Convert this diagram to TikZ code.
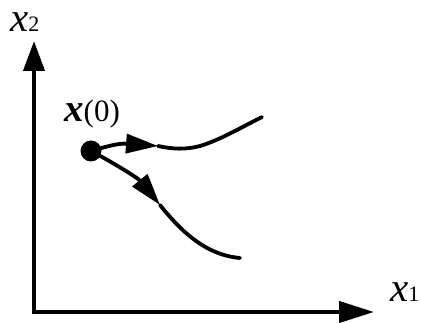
\documentclass[tikz,border=0pt]{standalone}
\usepackage{fontspec}
\setmainfont{Liberation Serif}
\usetikzlibrary{arrows.meta}
\begin{document}
\begin{tikzpicture}[x=1pt,y=-1pt,
  axis/.style={line width=4.2pt, line join=miter,
    {Triangle[length=30pt,width=21pt]}-{Triangle[length=35pt,width=21pt]}},
  traj/.style={line width=3.8pt, line cap=round, line join=round},
  headtip/.style={-{Triangle[length=32pt,width=19pt]}},
  lbl/.style={inner sep=0pt, anchor=base west}]
\useasboundingbox (0,0) rectangle (421,323);
\coordinate (Y) at (34,41);
\coordinate (O) at (34,312);
\coordinate (X) at (374,312);
\draw[axis] (Y) -- (O) -- (X);
\node[lbl] (lx2) at (10,32) {\fontsize{41}{41}\selectfont\itshape x\upshape\fontsize{22}{22}\selectfont 2};
\node[lbl] (lx1) at (390,302) {\fontsize{41}{41}\selectfont\itshape x\upshape\fontsize{22}{22}\selectfont 1};
\node[lbl] (lx0) at (64,122) {\fontsize{39}{39}\selectfont\bfseries\itshape x\fontsize{31}{31}\selectfont\mdseries\upshape (0)};
\fill (91,151) circle (10.5pt);
\coordinate (P0) at (91,151);
% upper trajectory
\coordinate (U1) at (158,146);
\draw[traj,headtip] (P0) .. controls (105,147) and (118,143) .. (U1);
\draw[traj] (U1) .. controls (172,149) and (185,150) .. (200,146)
  .. controls (220,140) and (240,128) .. (262,117);
% lower trajectory
\coordinate (L1) at (160,205);
\draw[traj,headtip] (P0) .. controls (112,162) and (138,178) .. (L1);
\draw[traj] (L1) .. controls (180,230) and (205,255) .. (240,258);
\end{tikzpicture}
\end{document}
